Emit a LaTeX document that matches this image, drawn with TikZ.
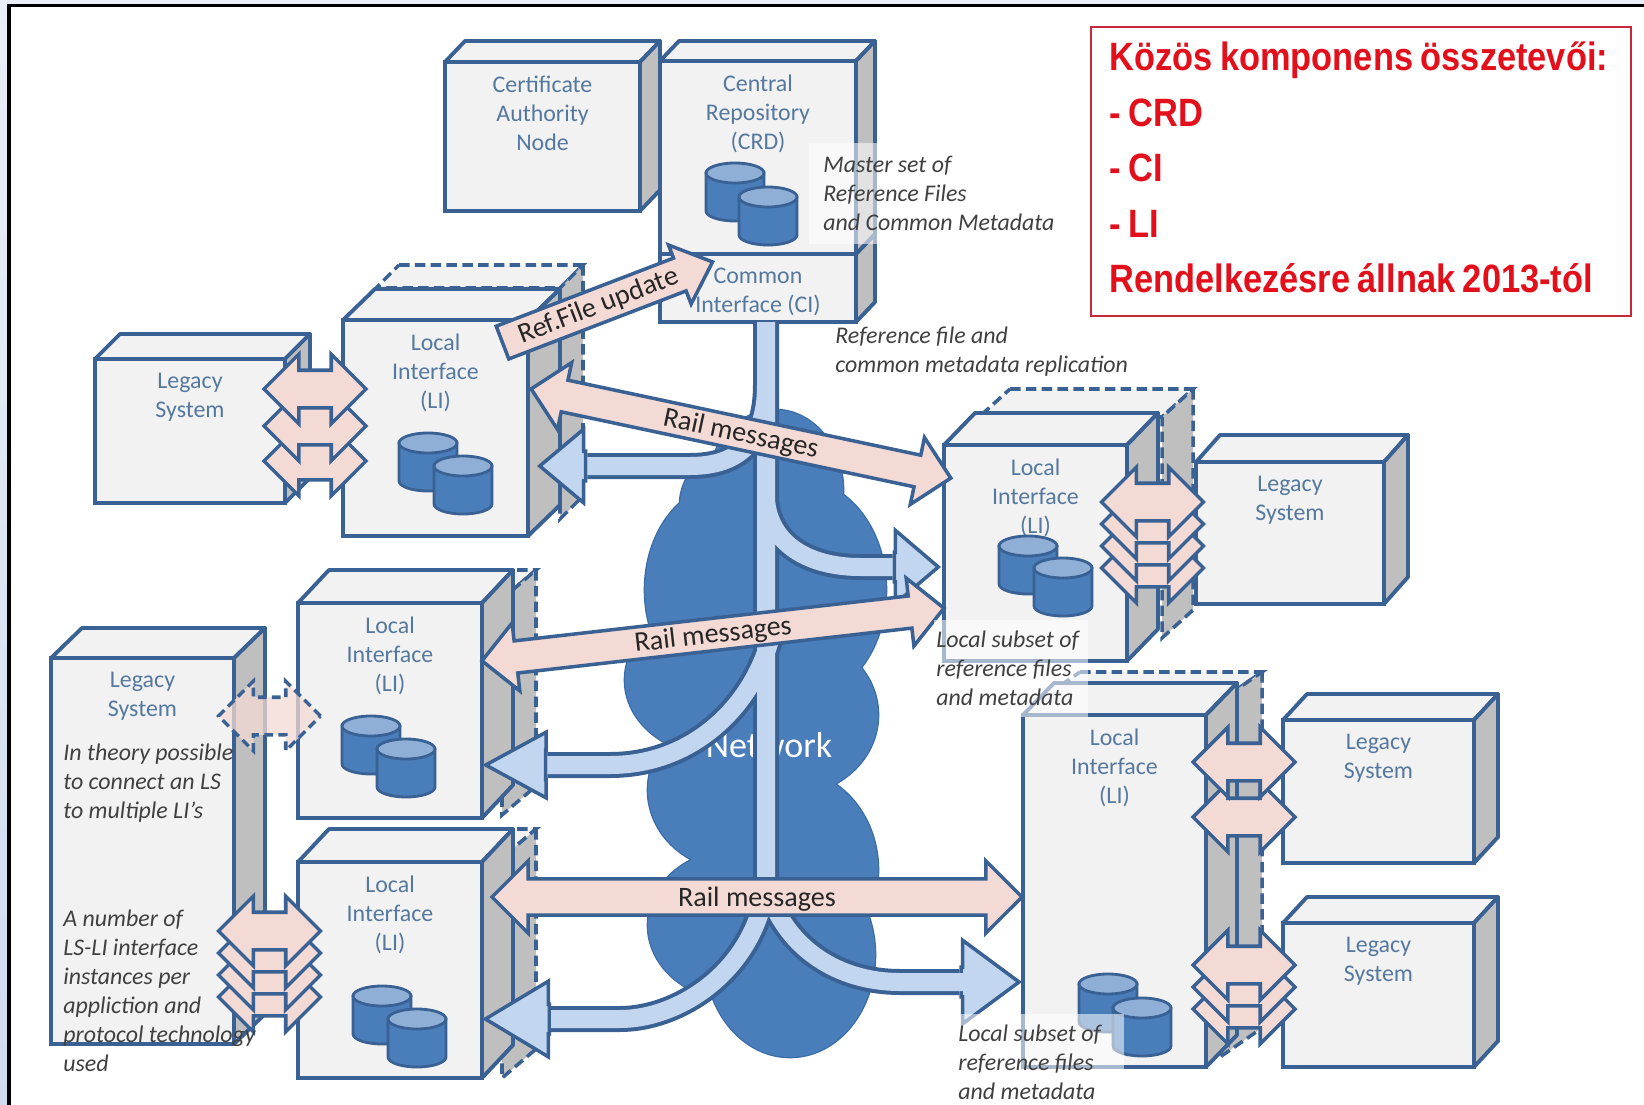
\documentclass[tikz,border=0pt]{standalone}
\usepackage{fontspec}
\usetikzlibrary{shapes.arrows}
\setmainfont{Carlito}
\newfontfamily\legendfont[FakeStretch=0.87, WordSpace=0.8]{Liberation Sans}

\definecolor{edgeblue}{HTML}{3A6193}
\definecolor{boxtext}{HTML}{55789F}
\definecolor{boxface}{HTML}{F2F2F2}
\definecolor{boxside}{HTML}{BFBFBF}
\definecolor{cloudblue}{HTML}{4A7EBB}
\definecolor{cloudedge}{HTML}{3A6CA8}
\definecolor{paleblue}{HTML}{C3D6EF}
\definecolor{arrowpink}{HTML}{F4DAD4}
\definecolor{dbtop}{HTML}{8FAFD6}
\definecolor{legendred}{HTML}{E3101C}
\definecolor{legendedge}{HTML}{C8283C}
\definecolor{stripe}{HTML}{E9EEF8}
\definecolor{stripelow}{HTML}{CFDCF0}

\def\pxu{0.02cm}

\tikzset{
    front/.style={rectangle, draw=edgeblue, fill=boxface, line width=2.2pt, outer sep=0pt, inner sep=0pt},
    facetop/.style={draw=edgeblue, fill=boxface, line width=2.2pt, line join=round},
    faceside/.style={draw=edgeblue, fill=boxside, line width=2.2pt, line join=round},
    ghosttop/.style={draw=edgeblue, fill=boxface, line width=2pt, dash pattern=on 6pt off 3pt},
    ghostside/.style={draw=edgeblue, fill=boxside, line width=2pt, dash pattern=on 6pt off 3pt},
    boxlabel/.style={text=boxtext, align=center, anchor=north, inner sep=0pt, font=\fontsize{13.6}{16.4}\selectfont},
    dbbody/.style={draw=edgeblue, fill=cloudblue, line width=1.6pt},
    dbend/.style={draw=edgeblue, fill=dbtop, line width=1.6pt},
    railarrow/.style={double arrow, draw=edgeblue, fill=arrowpink, line width=2pt, inner sep=0pt,
        text height=13pt, text depth=3.4pt, double arrow head extend=18*\pxu,
        font=\fontsize{16}{18}\selectfont, text=black!85},
    refarrow/.style={single arrow, draw=edgeblue, fill=arrowpink, line width=2pt, inner sep=0pt,
        text height=13.5pt, text depth=4.5pt, single arrow head extend=14*\pxu, single arrow tip angle=84,
        font=\fontsize{16}{18}\selectfont, text=black!85},
    stackarrow/.style={double arrow, draw=edgeblue, fill=arrowpink, line width=2pt, inner sep=0pt,
        text height=19*\pxu, text depth=15*\pxu, double arrow head extend=16*\pxu, minimum height=102*\pxu},
    stackghost/.style={stackarrow, dash pattern=on 5pt off 3pt, fill opacity=0.75},
    flowhead/.style 2 args={single arrow, draw=edgeblue, fill=paleblue, line width=2pt, inner sep=0pt,
        text height=13*\pxu, text depth=13*\pxu, single arrow head extend=#1*\pxu, single arrow tip angle=#2,
        anchor=tip, rotate=180},
    flowedge/.style={draw=edgeblue, line width=26*\pxu},
    flowfill/.style={draw=paleblue, line width=18*\pxu, shorten >=-5*\pxu},
    note/.style={anchor=north west, align=flush left, inner sep=0pt, text=black!75,
        font=\itshape\fontsize{13.6}{16.4}\selectfont},
    veil/.style={note, fill=white, fill opacity=0.55, text opacity=1},
    legendbox/.style={draw=legendedge, fill=white, line width=1.2pt, anchor=north west,
        minimum width=540*\pxu, minimum height=289*\pxu},
    legendtext/.style={anchor=west, align=left, inner sep=0pt, text=legendred,
        font=\legendfont\bfseries\fontsize{22.5}{31.6}\selectfont}
}

\newcommand{\drawcube}[8]{
    \pgfmathsetmacro\cubew{#4-#2}
    \pgfmathsetmacro\cubeh{#5-#3}
    \node[front, minimum width=\cubew*\pxu, minimum height=\cubeh*\pxu] (#1) at ({(#2+#4)/2},{(#3+#5)/2}) {};
    \draw[facetop] (#1.north west) -- ++(#6,-#7) -- ++(\cubew,0) -- (#1.north east) -- cycle;
    \draw[faceside] (#1.north east) -- ++(#6,-#7) -- ++(0,\cubeh) -- (#1.south east) -- cycle;
    \node[boxlabel] (#1txt) at ([yshift=-14*\pxu]#1.north) {#8};
}
\newcommand{\drawghost}[6]{
    \draw[ghosttop] (#1,#3) -- (#2,#3) -- ++(-#5,#6) -- ++({#1-#2},0) -- cycle;
    \draw[ghostside] (#2,#3) -- (#2,#4) -- ++(-#5,#6) -- ++(0,{#3-#4}) -- cycle;
}
\newcommand{\drawdb}[3]{
    \coordinate (#1) at (#2,#3);
    \draw[dbbody] ({#2-29},{#3-19}) -- ({#2-29},{#3+19})
        arc[start angle=180, end angle=360, x radius=29*\pxu, y radius=10*\pxu] -- ({#2+29},{#3-19}) -- cycle;
    \draw[dbend] (#2,{#3-19}) ellipse [x radius=29*\pxu, y radius=10*\pxu];
}

\begin{document}
\begin{tikzpicture}[x=\pxu, y=-\pxu]
    \useasboundingbox (0,0) rectangle (1644,1105);
    \fill[white] (0,0) rectangle (1644,1105);
    \shade[top color=stripe, bottom color=stripelow] (0,0) rectangle (8,1105);
    \fill[stripe] (0,0) rectangle (1644,4);
    \draw[black, line width=1.8pt] (9,1105) -- (9,5.5) -- (1644,5.5);

    \drawghost{399}{583}{265}{496}{23}{23}
    \drawghost{1010}{1193}{389}{610}{31}{28}
    \drawghost{359}{536}{570}{786}{34}{29}
    \drawghost{359}{536}{829}{1049}{34}{29}
    \drawghost{1080}{1262}{672}{1028}{42}{29}

    \drawcube{cert}{445}{62}{640}{211}{20}{21}{Certificate\\Authority\\Node}
    \drawcube{ci}{660}{254}{856}{322}{19}{20}{Common\\Interface (CI)}
    \drawcube{crd}{660}{61}{856}{254}{19}{20}{Central\\Repository\\(CRD)}
    \drawcube{lega}{95}{359}{285}{503}{25}{25}{Legacy\\System}
    \drawcube{lia}{343}{320}{528}{536}{32}{31}{Local\\Interface\\(LI)}
    \drawcube{legb}{1196}{462}{1384}{604}{24}{27}{Legacy\\System}
    \drawcube{lib}{944}{445}{1127}{661}{31}{32}{Local\\Interface\\(LI)}
    \drawcube{legc}{51}{658}{234}{1044}{31}{30}{Legacy\\System}
    \drawcube{lic}{298}{603}{482}{818}{31}{33}{Local\\Interface\\(LI)}
    \drawcube{lid}{298}{862}{482}{1078}{31}{33}{Local\\Interface\\(LI)}
    \drawcube{lie}{1023}{715}{1206}{1067}{31}{32}{Local\\Interface\\(LI)}
    \drawcube{legd}{1283}{720}{1474}{863}{24}{26}{Legacy\\System}
    \drawcube{lege}{1283}{923}{1474}{1067}{24}{26}{Legacy\\System}

    \drawdb{crdA}{735}{192}
    \drawdb{crdB}{768}{216}
    \drawdb{liaA}{428}{462}
    \drawdb{liaB}{463}{485}
    \drawdb{libA}{1028}{565}
    \drawdb{libB}{1063}{587}
    \drawdb{licA}{371}{745}
    \drawdb{licB}{406}{768}
    \drawdb{lidA}{382}{1015}
    \drawdb{lidB}{417}{1038}
    \drawdb{lieA}{1108}{1003}
    \drawdb{lieB}{1142}{1027}

    \foreach \cx/\cy/\rx/\ry in {775/490/68/80, 745/505/65/60, 725/590/80/105, 800/590/86/110, 715/680/90/75, 790/715/88/80,
        735/790/87/80, 790/870/88/100, 735/925/87/75, 790/955/85/102}
        \draw[cloudedge, line width=1.5pt] (\cx,\cy) ellipse [x radius=\rx, y radius=\ry];
    \foreach \cx/\cy/\rx/\ry in {775/490/68/80, 745/505/65/60, 725/590/80/105, 800/590/86/110, 715/680/90/75, 790/715/88/80,
        735/790/87/80, 790/870/88/100, 735/925/87/75, 790/955/85/102}
        \fill[cloudblue] (\cx,\cy) ellipse [x radius=\rx, y radius=\ry];
    \node[text=white, font=\fontsize{20.5}{24}\selectfont, inner sep=0pt] (network) at (769,745) {Network};

    \node[flowhead={22}{80}, minimum height=46*\pxu] (heada) at (537,466) {};
    \node[flowhead={22}{81}, minimum height=44*\pxu, rotate=180] (headb) at (941,567) {};
    \node[flowhead={18}{57}, minimum height=60*\pxu] (headc) at (482,765) {};
    \node[flowhead={23}{62}, minimum height=64*\pxu] (headd) at (482,1019) {};
    \node[flowhead={27}{73}, minimum height=58*\pxu, rotate=180] (heade) at (1022,982) {};

    \coordinate (bustop) at (ci.south -| 766,0);
    \coordinate (busbot) at (766,890);
    \def\busroutes{
        (bustop) -- (busbot)
        (766,385) .. controls (766,440) and (740,466) .. (690,466) -- (heada.tail)
        (766,500) .. controls (770,545) and (810,567) .. (860,567) -- (headb.tail)
        (770,640) .. controls (750,710) and (690,765) .. (610,765) -- (headc.tail)
        (766,885) .. controls (755,970) and (680,1019) .. (620,1019) -- (headd.tail)
        (766,885) .. controls (785,950) and (840,982) .. (900,982) -- (heade.tail)
    }
    \draw[flowedge] \busroutes;
    \draw[flowfill] \busroutes;

    \node[railarrow, minimum height=429*\pxu, rotate=-12] (raila) at (741,433.5) {Rail messages};
    \node[railarrow, minimum height=465*\pxu, rotate=6.5] (railb) at (713,634.5) {Rail messages};
    \node[railarrow, minimum height=530*\pxu, text height=15pt, text depth=3.7pt] (railc) at (757,897) {Rail messages};
    \node[refarrow, minimum height=225*\pxu, rotate=21, anchor=tip] (refup) at (715,261) {Ref.File update};

    \foreach \y in {461,426,389}
        \node[stackarrow] (stacka\y) at (315,\y) {};
    \foreach \y in {568,546,524,502}
        \node[stackarrow] (stackb\y) at (1152.5,\y) {};
    \node[stackghost] (stackc) at (269.5,716) {};
    \foreach \y in {997,975,953,931}
        \node[stackarrow] (stackd\y) at (269.5,\y) {};
    \foreach \y in {817,762}
        \node[stackarrow] (stacke\y) at (1244,\y) {};
    \foreach \y in {1009,987,965}
        \node[stackarrow] (stackf\y) at (1244,\y) {};

    \node[veil, text width=237*\pxu, inner xsep=14*\pxu, inner ysep=13*\pxu] (mastertxt) at (809,143) {Master set of\\Reference Files\\and Common Metadata};
    \node[note] (repltxt) at (835,327) {Reference file and\\common metadata replication};
    \node[veil, text width=150*\pxu, inner xsep=2*\pxu, inner ysep=11*\pxu] (subsetb) at (934,620) {Local subset of\\reference files\\and metadata};
    \node[veil, text width=163*\pxu, inner xsep=3*\pxu, inner ysep=11*\pxu] (subsete) at (955,1014) {Local subset of\\reference files\\and metadata};
    \node[note] (theorytxt) at (63,744) {In theory possible\\to connect an LS\\to multiple LI’s};
    \node[note] (numbertxt) at (63,910) {A number of\\LS-LI interface\\instances per\\appliction and\\protocol technology\\used};

    \node[legendbox] (legend) at (1090,26) {};
    \node[legendtext] (legendtxt) at (1109,167.5) {Közös komponens összetevői:\\- CRD\\- CI\\- LI\\Rendelkezésre állnak 2013-tól};
\end{tikzpicture}
\end{document}
